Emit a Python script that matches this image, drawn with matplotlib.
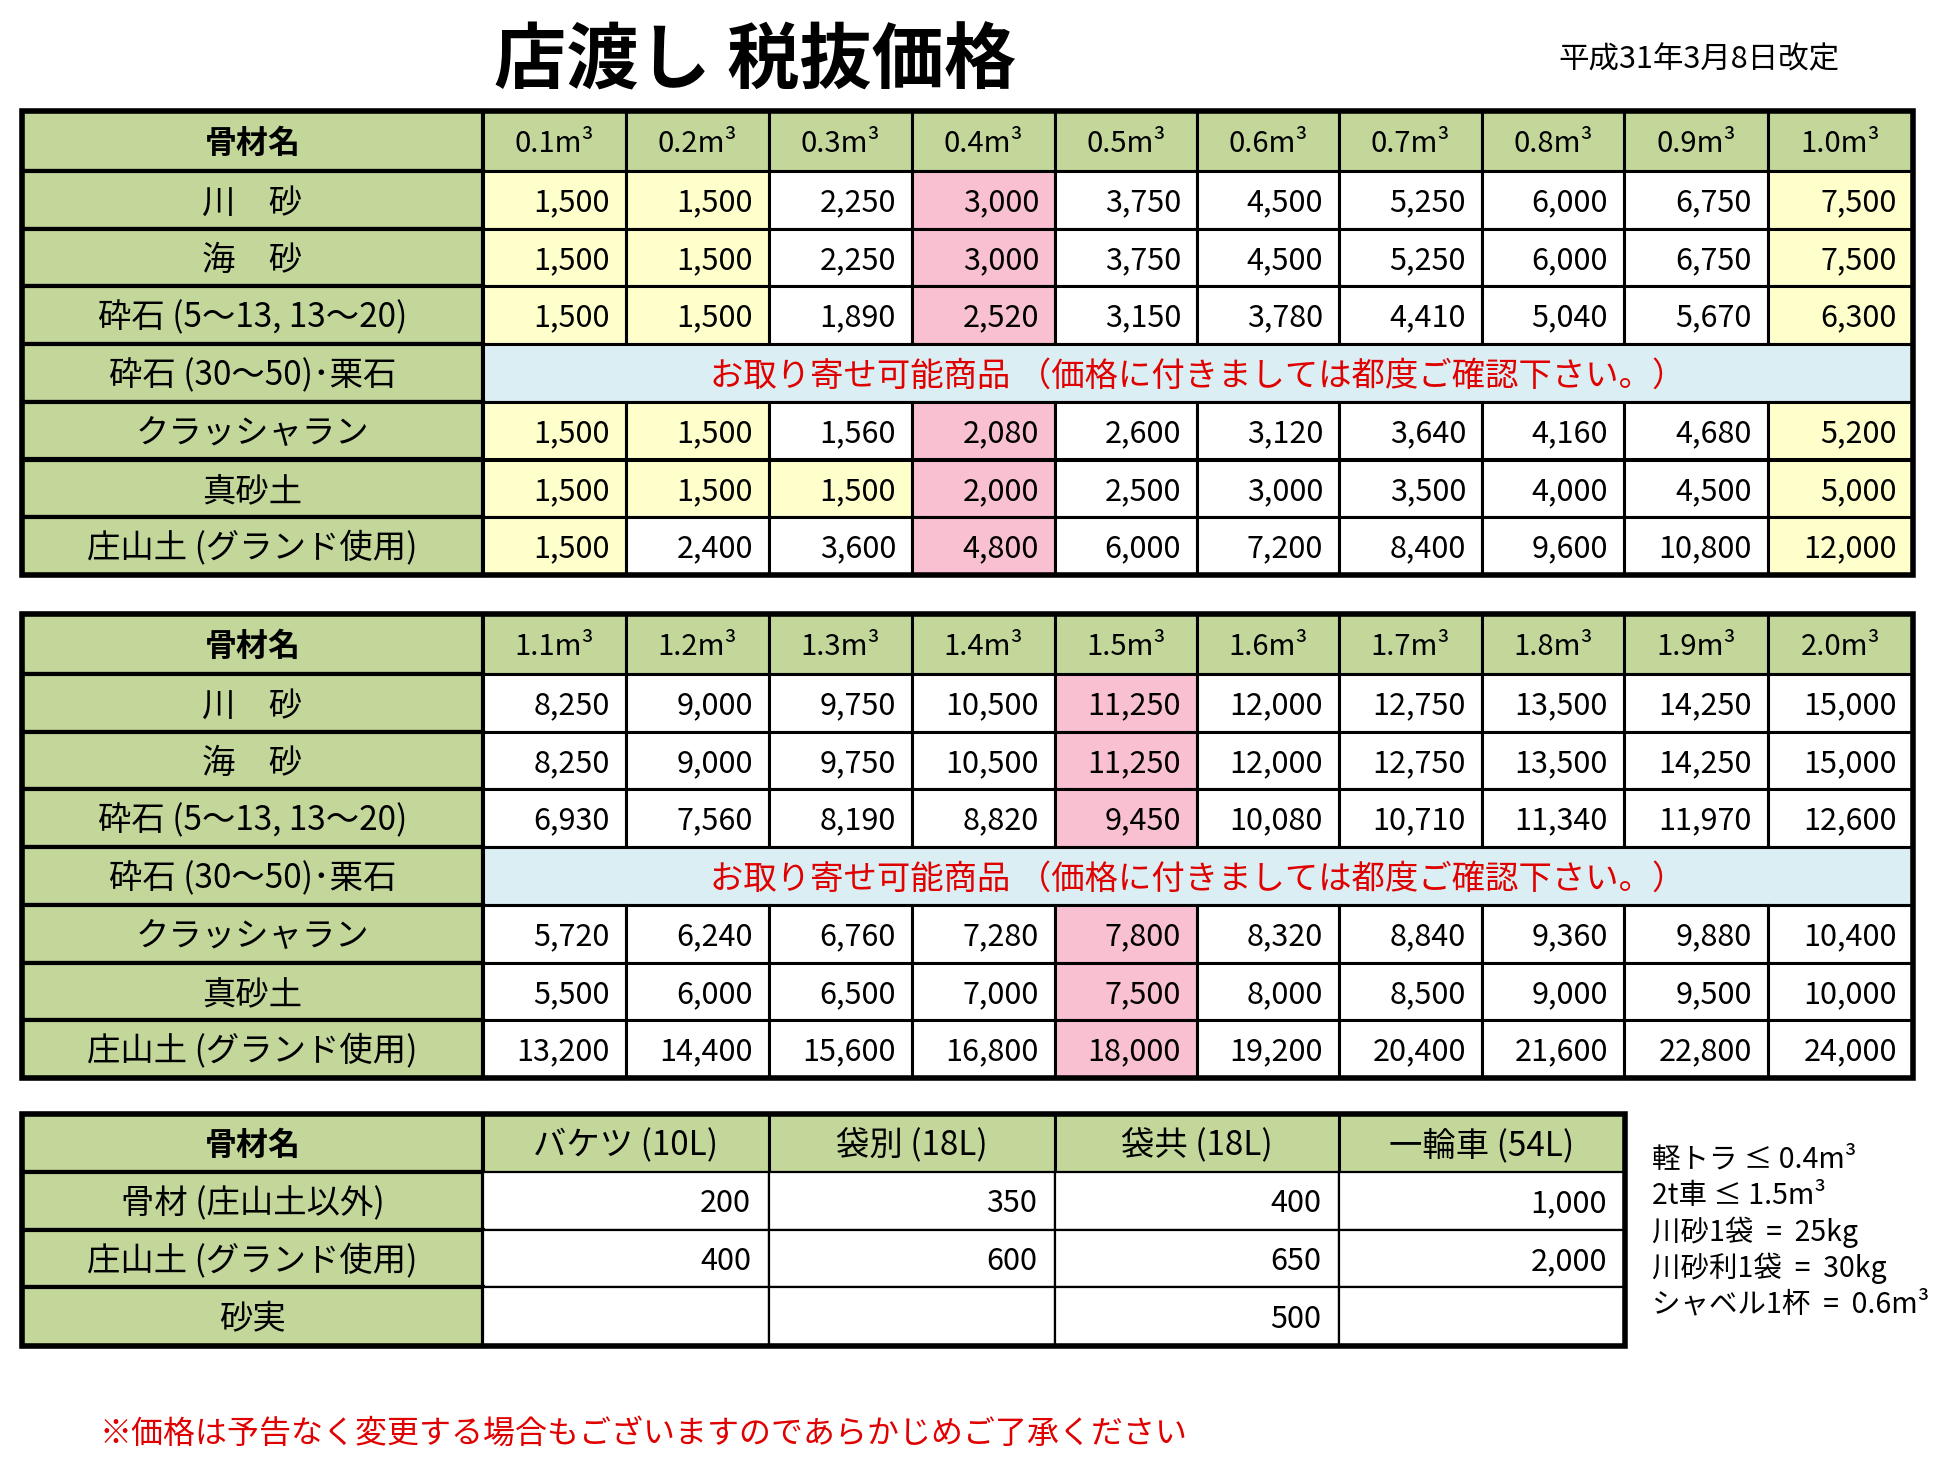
import matplotlib
matplotlib.use("Agg")
import matplotlib.pyplot as plt
from matplotlib.patches import Rectangle

plt.rcParams['font.family'] = ['Noto Sans CJK JP', 'DejaVu Sans']

# ---- data ----
title = "店渡し 税抜価格"
date_note = "平成31年3月8日改定"
head_label = "骨材名"
materials = ["川　砂", "海　砂", "砕石 (5～13, 13～20)", "砕石 (30～50)･栗石",
             "クラッシャラン", "真砂土", "庄山土 (グランド使用)"]
order_note = "お取り寄せ可能商品 （価格に付きましては都度ご確認下さい。）"

vol1 = ["0.1m³", "0.2m³", "0.3m³", "0.4m³", "0.5m³", "0.6m³", "0.7m³", "0.8m³", "0.9m³", "1.0m³"]
vol2 = ["1.1m³", "1.2m³", "1.3m³", "1.4m³", "1.5m³", "1.6m³", "1.7m³", "1.8m³", "1.9m³", "2.0m³"]

kawa1 = [1500, 1500, 2250, 3000, 3750, 4500, 5250, 6000, 6750, 7500]
umi1 = [1500, 1500, 2250, 3000, 3750, 4500, 5250, 6000, 6750, 7500]
saiseki1 = [1500, 1500, 1890, 2520, 3150, 3780, 4410, 5040, 5670, 6300]
crusher1 = [1500, 1500, 1560, 2080, 2600, 3120, 3640, 4160, 4680, 5200]
masado1 = [1500, 1500, 1500, 2000, 2500, 3000, 3500, 4000, 4500, 5000]
shoyama1 = [1500, 2400, 3600, 4800, 6000, 7200, 8400, 9600, 10800, 12000]

kawa2 = [8250, 9000, 9750, 10500, 11250, 12000, 12750, 13500, 14250, 15000]
umi2 = [8250, 9000, 9750, 10500, 11250, 12000, 12750, 13500, 14250, 15000]
saiseki2 = [6930, 7560, 8190, 8820, 9450, 10080, 10710, 11340, 11970, 12600]
crusher2 = [5720, 6240, 6760, 7280, 7800, 8320, 8840, 9360, 9880, 10400]
masado2 = [5500, 6000, 6500, 7000, 7500, 8000, 8500, 9000, 9500, 10000]
shoyama2 = [13200, 14400, 15600, 16800, 18000, 19200, 20400, 21600, 22800, 24000]

prices1 = [kawa1, umi1, saiseki1, None, crusher1, masado1, shoyama1]
prices2 = [kawa2, umi2, saiseki2, None, crusher2, masado2, shoyama2]

# highlighted columns per row (yellow = minimum charge, pink = truck limit)
yellow1 = [[0, 1, 9], [0, 1, 9], [0, 1, 9], [], [0, 1, 9], [0, 1, 2, 9], [0, 9]]
pink1 = [3]
pink2 = [4]

small_units = ["バケツ (10L)", "袋別 (18L)", "袋共 (18L)", "一輪車 (54L)"]
small_items = ["骨材 (庄山土以外)", "庄山土 (グランド使用)", "砂実"]
small_prices = [[200, 350, 400, 1000], [400, 600, 650, 2000], [None, None, 500, None]]

notes = ["軽トラ ≤ 0.4m³", "2t車 ≤ 1.5m³", "川砂1袋  =  25kg", "川砂利1袋  =  30kg", "シャベル1杯  =  0.6m³"]
footer = "※価格は予告なく変更する場合もございますのであらかじめご了承ください"

# ---- style ----
GREEN = "#C4D79B"
YELLOW = "#FFFFCC"
PINK = "#F9C0D2"
BLUE = "#DAEEF3"
RED = "#E00000"
FS = 22
DY = 3  # small downward nudge to visually centre CJK text

fig = plt.figure(figsize=(19.41, 14.59), dpi=100)
ax = fig.add_axes([0, 0, 1, 1])
ax.set_xlim(0, 1941)
ax.set_ylim(1459, 0)
ax.axis("off")


def cell(x0, x1, y0, y1, color, lw=2.2):
    ax.add_patch(Rectangle((x0, y0), x1 - x0, y1 - y0, facecolor=color,
                           edgecolor="black", linewidth=lw, zorder=1))


def price_table(top, vols, prices, yellow, pink):
    xs = [22, 483, 626, 769, 912, 1055, 1197, 1339, 1482, 1624, 1768, 1913]
    ys = [top, top + 60] + [top + 60 + 57.7 * (i + 1) for i in range(7)]
    # header
    cell(xs[0], xs[1], ys[0], ys[1], GREEN, 3)
    ax.text((xs[0] + xs[1]) / 2, (ys[0] + ys[1]) / 2 + DY, head_label, ha="center",
            va="center", fontsize=FS + 1, fontweight="bold")
    for j, v in enumerate(vols):
        cell(xs[j + 1], xs[j + 2], ys[0], ys[1], GREEN)
        ax.text((xs[j + 1] + xs[j + 2]) / 2, (ys[0] + ys[1]) / 2 + DY, v,
                ha="center", va="center", fontsize=FS - 1)
    for i, name in enumerate(materials):
        y0, y1 = ys[i + 1], ys[i + 2]
        cy = (y0 + y1) / 2 + DY
        cell(xs[0], xs[1], y0, y1, GREEN, 3)
        ax.text((xs[0] + xs[1]) / 2, cy, name, ha="center", va="center", fontsize=FS + 2)
        row = prices[i]
        if row is None:
            cell(xs[1], xs[-1], y0, y1, BLUE)
            ax.text((xs[1] + xs[-1]) / 2, cy, order_note, ha="center",
                    va="center", fontsize=FS + 2, color=RED)
            continue
        for j, p in enumerate(row):
            c = "white"
            if j in yellow[i]:
                c = YELLOW
            if j in pink:
                c = PINK
            cell(xs[j + 1], xs[j + 2], y0, y1, c)
            ax.text(xs[j + 2] - 16, cy, f"{p:,}", ha="right", va="center", fontsize=FS)
    ax.add_patch(Rectangle((xs[0], ys[0]), xs[-1] - xs[0], ys[-1] - ys[0], fill=False,
                           edgecolor="black", linewidth=4, zorder=3))


price_table(111, vol1, prices1, yellow1, pink1)
price_table(614, vol2, prices2, [[]] * 7, pink2)

# small-quantity table
xs3 = [22, 483, 769, 1055, 1339, 1625]
ys3 = [1114, 1172, 1230, 1287, 1346]
cell(xs3[0], xs3[1], ys3[0], ys3[1], GREEN, 3)
ax.text((xs3[0] + xs3[1]) / 2, (ys3[0] + ys3[1]) / 2 + DY, head_label, ha="center",
        va="center", fontsize=FS + 1, fontweight="bold")
for j, u in enumerate(small_units):
    cell(xs3[j + 1], xs3[j + 2], ys3[0], ys3[1], GREEN)
    ax.text((xs3[j + 1] + xs3[j + 2]) / 2, (ys3[0] + ys3[1]) / 2 + DY, u,
            ha="center", va="center", fontsize=FS + 2)
for i, name in enumerate(small_items):
    y0, y1 = ys3[i + 1], ys3[i + 2]
    cy = (y0 + y1) / 2 + DY
    cell(xs3[0], xs3[1], y0, y1, GREEN, 3)
    ax.text((xs3[0] + xs3[1]) / 2, cy, name, ha="center", va="center", fontsize=FS + 2)
    for j, p in enumerate(small_prices[i]):
        cell(xs3[j + 1], xs3[j + 2], y0, y1, "white", 1.6)
        if p is not None:
            ax.text(xs3[j + 2] - 18, cy, f"{p:,}", ha="right", va="center", fontsize=FS)
ax.add_patch(Rectangle((xs3[0], ys3[0]), xs3[-1] - xs3[0], ys3[-1] - ys3[0], fill=False,
                       edgecolor="black", linewidth=4, zorder=3))

# titles and notes
ax.text(755, 62, title, ha="center", va="center", fontsize=52, fontweight="bold")
ax.text(1699, 60, date_note, ha="center", va="center", fontsize=22)
for k, n in enumerate(notes):
    ax.text(1652, 1160 + k * 36, n, ha="left", va="center", fontsize=20.5)
ax.text(99, 1434, footer, ha="left", va="center", fontsize=23, color=RED)

fig.savefig("out.png", dpi=100, facecolor="white")
